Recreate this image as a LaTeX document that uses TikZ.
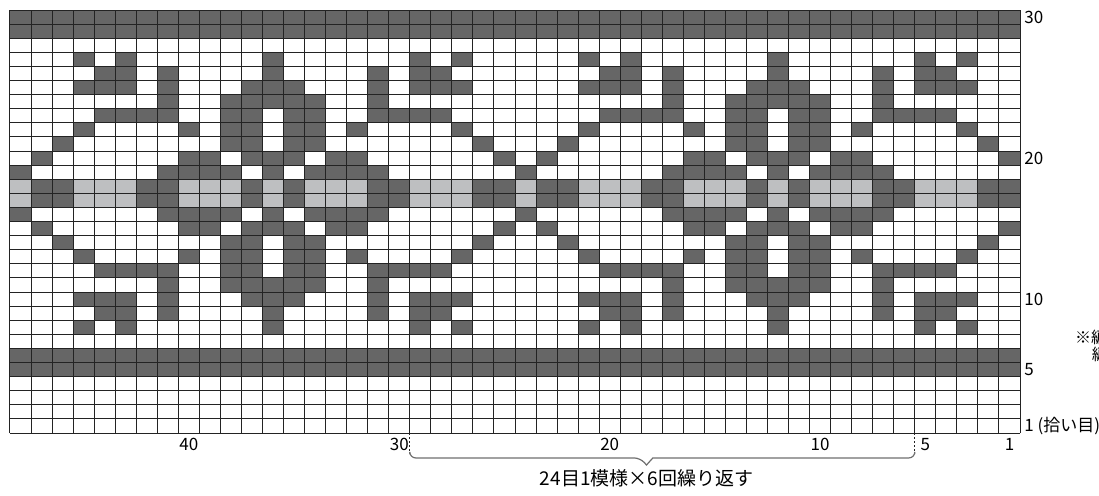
\documentclass[tikz,border=0pt]{standalone}
\usepackage{fontspec}
\setmainfont{Noto Sans CJK JP}
\usetikzlibrary{positioning, calc}
\definecolor{knitdark}{RGB}{102,102,102}
\definecolor{knitlight}{RGB}{190,191,193}
\definecolor{gridline}{RGB}{35,35,35}
\definecolor{bracegray}{RGB}{110,110,110}

\begin{document}
\begin{tikzpicture}[
				x=10.5208pt, y=7.05pt,
				darkcell/.style={fill=knitdark},
				lightcell/.style={fill=knitlight},
				gridrule/.style={draw=gridline, line width=0.5pt},
				rowlabel/.style={anchor=west, inner sep=0pt, xshift=2pt,
					font=\fontsize{8.5}{10}\selectfont},
				collabel/.style={anchor=north, inner sep=0pt, yshift=-2.5pt,
					font=\fontsize{8.5}{10}\selectfont},
				bracedash/.style={draw=gridline, line width=0.4pt, dash pattern=on 1pt off 1pt},
				bracket/.style={draw=bracegray, line width=0.6pt},
				repeatnote/.style={inner sep=0pt, font=\fontsize{9.5}{11}\selectfont},
				sidenote/.style={anchor=west, inner sep=0pt, font=\fontsize{8}{9}\selectfont}
				]
				\useasboundingbox (-5pt,-31pt) rectangle (544.5pt,216.5pt);

				% solid bands
				\fill[darkcell] (0,28) rectangle (48,30);
				\fill[darkcell] (0,4) rectangle (48,6);
				\fill[lightcell] (0,16) rectangle (48,18);

				% motif, rows 19-27 mirrored onto rows 16-8
				\foreach \rw/\cols in {27/{3,5,12,19,21},
						26/{4,5,7,12,17,19,20},
						25/{3,4,5,7,11,12,13,17,19,20,21},
						24/{7,10,11,12,13,14,17},
						23/{4,5,6,7,10,11,13,14,17,18,19,20},
						22/{3,8,10,11,13,14,16,21},
						21/{2,10,11,13,14,22},
						20/{1,8,9,11,12,13,15,16,23},
						19/{0,7,8,9,10,12,14,15,16,17}} {
					\foreach \c in \cols {
						\foreach \k in {0,24} {
							\fill[darkcell] (\c+\k,\rw-1) rectangle ++(1,1);
							\fill[darkcell] (\c+\k,34-\rw) rectangle ++(1,1);
						}
					}
				}
				% rows 17-18
				\foreach \c in {1,2,6,7,11,13,17,18,22,23} {
					\foreach \k in {0,24} {
						\fill[darkcell] (\c+\k,16) rectangle ++(1,2);
					}
				}

				% grid
				\foreach \i in {0,...,48} {
					\draw[gridrule] (\i,0) -- (\i,30);
				}
				\foreach \j in {0,...,30} {
					\draw[gridrule] (0,\j) -- (48,\j);
				}

				% row numbers
				\foreach \rw in {30,20,10,5} {
					\node[rowlabel] (row\rw) at (48,\rw-0.5) {\rw};
				}
				\node[rowlabel] (row1) at (48,0.5) {1 (拾い目)};

				% stitch numbers
				\foreach \st in {40,30,20,10,5,1} {
					\node[collabel] (col\st) at (48.5-\st,0) {\st};
				}

				% repeat bracket
				\coordinate (braceL) at (19,0);
				\coordinate (braceR) at (43,0);
				\coordinate (braceTip) at (30.25,-2.27);
				\draw[bracedash] (braceL) -- ++(0,-1.5) coordinate (braceLlow);
				\draw[bracedash] (braceR) -- ++(0,-1.5) coordinate (braceRlow);
				\draw[bracket] (braceLlow) [rounded corners=3pt] |- ($(braceTip)+(-0.3,0.5)$)
					[sharp corners] -- (braceTip) -- ($(braceTip)+(0.3,0.5)$)
					[rounded corners=3pt] -| (braceRlow);
				\node[repeatnote, below=2pt of braceTip] (repeatlbl) {24目1模様×6回繰り返す};

				% note at the right edge
				\node[sidenote] (noteA) at (50.6,6.81) {※編};
				\node[sidenote] (noteB) at (51.4,5.6) {編};
			\end{tikzpicture}
\end{document}
